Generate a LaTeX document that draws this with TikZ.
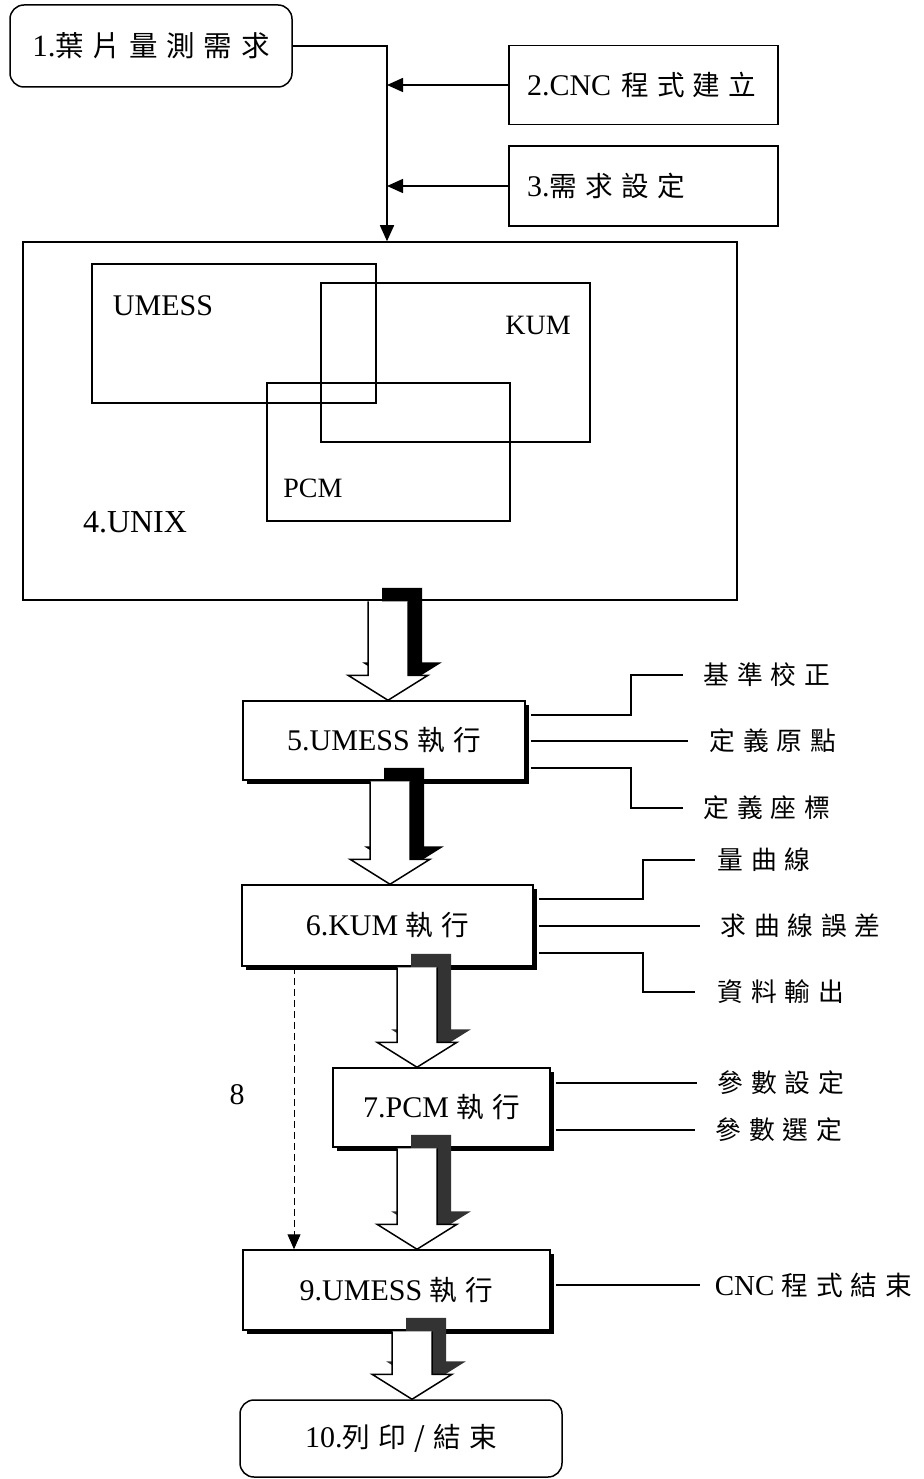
\documentclass[tikz,border=0pt]{standalone}
\usepackage{fontspec}
\setmainfont{Liberation Serif}
\newfontfamily\cjk[LetterSpace=30,Scale=0.92]{Noto Sans CJK TC}
\usetikzlibrary{arrows.meta,calc,shadows}
\newcommand{\blockarr}[4]{%
  \fill[#4] let \p1=(#1.south), \p2=(#2.north) in
    (#3pt-6pt,\y1+13pt) -- (#3pt-6pt,\y2+38pt) -- (#3pt-26pt,\y2+38pt) -- (#3pt+14pt,\y2+13pt)
    -- (#3pt+54pt,\y2+38pt) -- (#3pt+34pt,\y2+38pt) -- (#3pt+34pt,\y1+13pt) -- cycle;
  \filldraw[fill=white] let \p1=(#1.south), \p2=(#2.north) in
    (#3pt-20pt,\y1-0.6pt) -- (#3pt-20pt,\y2+25pt) -- (#3pt-40pt,\y2+25pt) -- (#3pt,\y2)
    -- (#3pt+40pt,\y2+25pt) -- (#3pt+20pt,\y2+25pt) -- (#3pt+20pt,\y1-0.6pt);
}
\begin{document}
\begin{tikzpicture}[x=1pt,y=-1pt,line width=1.5pt,
  font=\fontsize{30}{34}\selectfont,
  box/.style={draw,fill=white,inner sep=0pt},
  rbox/.style={box,rounded corners=14pt},
  lbox/.style={box,align=left,inner xsep=18pt},
  sbox/.style={box,drop shadow={shadow xshift=4pt,shadow yshift=-4pt,fill=black,opacity=1}},
  inr/.style={draw,inner sep=0pt},
  ctxt/.style={inner sep=0pt},
  lbl/.style={anchor=west,inner sep=0pt,font=\fontsize{28}{32}\selectfont},
  side/.style={line width=1.4pt},
  arr/.style={-{Triangle[length=16pt,width=14pt]}}]
\useasboundingbox (0,0) rectangle (923,1479);

% top boxes
\node[rbox,minimum width=282pt,minimum height=82pt,font=\fontsize{31}{34}\selectfont] (b1) at (151,46) {1.{\cjk 葉片量測需求}};
\node[lbox,text width=233pt,minimum height=79pt] (b2) at (643.5,85) {2.CNC {\cjk 程式建立}};
\node[lbox,text width=233pt,minimum height=80pt] (b3) at (643.5,186) {3.{\cjk 需求設定}};

% UNIX box
\node[box,minimum width=714pt,minimum height=358pt] (u) at (380,421) {};
\node[inr,minimum width=284pt,minimum height=139pt] (um) at (234,333.5) {};
\node[inr,minimum width=269pt,minimum height=159pt] (km) at (455.5,362.5) {};
\node[inr,minimum width=243pt,minimum height=138pt] (pm) at (388.5,452) {};
\node[ctxt] (uml) at (163,306) {UMESS};
\node[ctxt,font=\fontsize{28}{32}\selectfont] (kml) at (538,325) {KUM};
\node[ctxt,font=\fontsize{28}{32}\selectfont] (pml) at (313,488) {PCM};
\node[ctxt,font=\fontsize{32}{36}\selectfont] (ul) at (135,522) {4.UNIX};

% junction
\coordinate (j) at (387,45);
\draw[arr] (b1.east) -| (j |- u.north);
\draw[arr] (b2.west) -- (b2.west -| j);
\draw[arr] (b3.west) -- (b3.west -| j);

% process boxes
\node[sbox,minimum width=282pt,minimum height=79pt] (b5) at (384,740.5) {5.UMESS {\cjk 執行}};
\node[sbox,minimum width=291pt,minimum height=81pt] (b6) at (387.5,925.5) {6.KUM {\cjk 執行}};
\node[sbox,minimum width=217pt,minimum height=79pt] (b7) at (441.5,1107.5) {7.PCM {\cjk 執行}};
\node[sbox,minimum width=307pt,minimum height=80pt] (b9) at (396.5,1290) {9.UMESS {\cjk 執行}};
\node[rbox,minimum width=322pt,minimum height=77pt] (b10) at (401,1438.5) {10.{\cjk 列印/結束}};

% block arrows
\blockarr{u}{b5}{388}{black}
\blockarr{b5}{b6}{390}{black}
\blockarr{b6}{b7}{417}{black!80}
\blockarr{b7}{b9}{417}{black!80}
\blockarr{b9}{b10}{412}{black!80}

% side labels
\node[lbl] (l51) at (703,675) {\cjk 基準校正};
\node[lbl] (l52) at (709,741) {\cjk 定義原點};
\node[lbl] (l53) at (703,808) {\cjk 定義座標};
\node[lbl] (l61) at (717,860) {\cjk 量曲線};
\node[lbl] (l62) at (720,926) {\cjk 求曲線誤差};
\node[lbl] (l63) at (717,992) {\cjk 資料輸出};
\node[lbl] (l71) at (717,1083) {\cjk 參數設定};
\node[lbl] (l72) at (715,1130) {\cjk 參數選定};
\node[lbl,font=\fontsize{29}{32}\selectfont] (l9) at (714,1285) {CNC {\cjk 程式結束}};

\draw[side] ($(b5.east)+(5,-25.5)$) -- (631,715) |- ($(l51.west)+(-20,0)$);
\draw[side] ([xshift=5pt]b5.east |- l52.west) -- ($(l52.west)+(-21,0)$);
\draw[side] ($(b5.east)+(5,27.5)$) -- (631,768) |- ($(l53.west)+(-20,0)$);
\draw[side] ($(b6.east)+(5,-26.5)$) -- (643,899) |- ($(l61.west)+(-22,0)$);
\draw[side] ([xshift=5pt]b6.east |- l62.west) -- ($(l62.west)+(-20,0)$);
\draw[side] ($(b6.east)+(5,27.5)$) -- (643,953) |- ($(l63.west)+(-22,0)$);
\draw[side] ([xshift=5pt]b7.east |- l71.west) -- ($(l71.west)+(-20,0)$);
\draw[side] ([xshift=5pt]b7.east |- l72.west) -- ($(l72.west)+(-20,0)$);
\draw[side] ([xshift=5pt]b9.east |- l9.west) -- ($(l9.west)+(-14,0)$);

% dashed arrow 8
\coordinate (dx) at (294,0);
\draw[dashed,dash pattern=on 7pt off 4pt,line width=1pt] (b6.south -| dx) -- ([yshift=14pt]b9.north -| dx);
\draw[-{Triangle[length=15pt,width=13pt]},line width=1pt] ([yshift=14pt]b9.north -| dx) -- (b9.north -| dx);
\node[inner sep=0pt] (n8) at (237,1095) {8};
\end{tikzpicture}
\end{document}
